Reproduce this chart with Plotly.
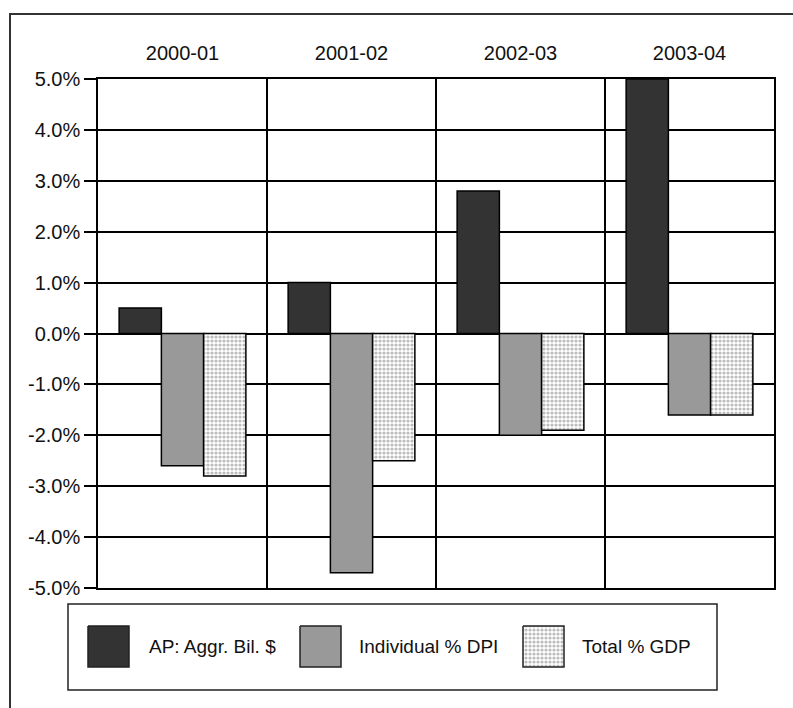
import plotly.graph_objects as go

# Fiscal years and the three measures (percent change)
years = ["2000-01", "2001-02", "2002-03", "2003-04"]
series_names = ["AP: Aggr. Bil. $", "Individual % DPI", "Total % GDP"]
ap_aggr = [0.5, 1.0, 2.8, 5.0]
individual_dpi = [-2.6, -4.7, -2.0, -1.6]
total_gdp = [-2.8, -2.5, -1.9, -1.6]
y_ticks = [5, 4, 3, 2, 1, 0, -1, -2, -3, -4, -5]

W, H = 793, 708
FONT = "Liberation Sans, Arial, sans-serif"
DARK, GREY = "#333333", "#999999"
DOTS = dict(shape=".", fgcolor="#7a7a7a", bgcolor="white", size=4, solidity=0.5, fillmode="overlay")

# plot area in pixels
PL, PR, PT, PB = 98, 774, 79, 588

fig = go.Figure()
styles = [
    dict(color=DARK),
    dict(color=GREY),
    dict(color="white", pattern=DOTS),
]
for name, vals, st in zip(series_names, [ap_aggr, individual_dpi, total_gdp], styles):
    fig.add_trace(go.Bar(
        x=years, y=vals, name=name,
        marker=dict(line=dict(color="black", width=1.5), **st),
        showlegend=False, hoverinfo="skip",
    ))

# legend drawn as a boxed row of large swatches on a pixel-space overlay axis
sw_left = [88, 300, 523]
txt_left = [147, 357, 580]
sw_top, sw_size = 626, 41
for name, st, x0 in zip(series_names, styles, sw_left):
    kw = dict(fillcolor=st["color"])
    if "pattern" in st:
        p = st["pattern"]
        kw["fillpattern"] = dict(shape=p["shape"], fgcolor=p["fgcolor"], bgcolor=p["bgcolor"],
                                 size=p["size"], solidity=p["solidity"], fillmode="overlay")
    fig.add_trace(go.Scatter(
        x=[x0, x0 + sw_size, x0 + sw_size, x0, x0],
        y=[sw_top, sw_top, sw_top + sw_size, sw_top + sw_size, sw_top],
        xaxis="x2", yaxis="y2", mode="lines", fill="toself",
        line=dict(color="#222", width=1.5), showlegend=False, hoverinfo="skip", **kw,
    ))
for name, x0 in zip(series_names, txt_left):
    fig.add_annotation(x=x0, y=646, xref="x2", yref="y2", text=name, showarrow=False,
                       xanchor="left", yanchor="middle",
                       font=dict(family=FONT, size=19, color="#111"))

fig.update_layout(
    width=W, height=H,
    margin=dict(l=0, r=0, t=0, b=0),
    paper_bgcolor="white", plot_bgcolor="rgba(0,0,0,0)",
    barmode="group", bargap=0.25, bargroupgap=0,
    font=dict(family=FONT, size=20, color="#111"),
    xaxis=dict(
        domain=[PL / W, PR / W], side="top", type="category",
        tickson="boundaries", ticks="", showgrid=True, gridcolor="black", gridwidth=1.5,
        showline=True, linecolor="black", linewidth=1.5, mirror=True,
        ticklabelstandoff=9, automargin=False, tickfont=dict(size=20),
    ),
    yaxis=dict(
        domain=[1 - PB / H, 1 - PT / H], range=[-5, 5],
        tickvals=y_ticks, ticktext=[f"{v:.1f}%" for v in y_ticks],
        ticks="outside", ticklen=12, tickcolor="black", tickwidth=1.5,
        showgrid=True, gridcolor="black", gridwidth=1.5,
        zeroline=True, zerolinecolor="black", zerolinewidth=1.5,
        showline=True, linecolor="black", linewidth=1.5, mirror=True,
        automargin=False, tickfont=dict(size=20),
    ),
    xaxis2=dict(domain=[0, 1], range=[0, W], visible=False, fixedrange=True, anchor="y2"),
    yaxis2=dict(domain=[0, 1], range=[H, 0], visible=False, fixedrange=True, anchor="x2"),
    shapes=[
        # outer frame
        dict(type="rect", xref="paper", yref="paper", x0=10 / W, x1=1.05, y0=1 - 14 / H, y1=-0.05,
             line=dict(color="#333", width=2)),
        # legend box
        dict(type="rect", xref="paper", yref="paper", x0=68 / W, x1=717 / W,
             y0=1 - 604 / H, y1=1 - 690 / H, line=dict(color="#222", width=1.5)),
    ],
)

fig.write_html("out.html")
